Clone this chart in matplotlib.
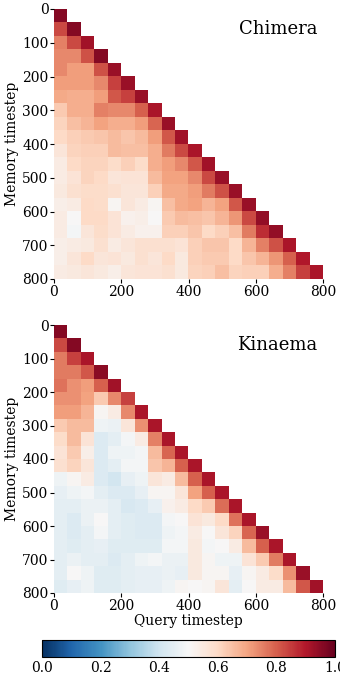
import numpy as np
import matplotlib
matplotlib.use("Agg")
import matplotlib.pyplot as plt

plt.rcParams['font.family'] = ['DejaVu Serif']

step = 40
n_cells = 20
y_ticks = [0, 100, 200, 300, 400, 500, 600, 700, 800]
x_ticks = [0, 200, 400, 600, 800]
cbar_ticks = [0.0, 0.2, 0.4, 0.6, 0.8, 1.0]

# lower-triangular rows: row i (memory) holds values for query columns 0..i
chimera_rows = [
    [0.96],
    [0.83, 0.96],
    [0.75, 0.83, 0.92],
    [0.74, 0.74, 0.82, 0.96],
    [0.74, 0.71, 0.71, 0.82, 0.93],
    [0.71, 0.71, 0.71, 0.74, 0.84, 0.93],
    [0.69, 0.68, 0.68, 0.71, 0.81, 0.84, 0.93],
    [0.63, 0.68, 0.68, 0.75, 0.74, 0.74, 0.80, 0.91],
    [0.61, 0.65, 0.67, 0.70, 0.68, 0.68, 0.71, 0.79, 0.93],
    [0.60, 0.62, 0.63, 0.64, 0.66, 0.64, 0.66, 0.71, 0.81, 0.92],
    [0.56, 0.61, 0.62, 0.62, 0.66, 0.65, 0.65, 0.68, 0.76, 0.83, 0.91],
    [0.54, 0.60, 0.61, 0.61, 0.59, 0.62, 0.59, 0.68, 0.71, 0.74, 0.81, 0.92],
    [0.54, 0.57, 0.61, 0.60, 0.56, 0.57, 0.57, 0.66, 0.70, 0.70, 0.74, 0.83, 0.93],
    [0.55, 0.58, 0.59, 0.59, 0.58, 0.56, 0.56, 0.62, 0.69, 0.69, 0.71, 0.76, 0.82, 0.93],
    [0.53, 0.54, 0.60, 0.59, 0.51, 0.56, 0.54, 0.51, 0.65, 0.69, 0.70, 0.67, 0.70, 0.81, 0.93],
    [0.54, 0.50, 0.60, 0.60, 0.57, 0.52, 0.53, 0.50, 0.63, 0.66, 0.65, 0.64, 0.67, 0.72, 0.83, 0.94],
    [0.54, 0.49, 0.56, 0.59, 0.57, 0.54, 0.52, 0.52, 0.62, 0.62, 0.64, 0.60, 0.62, 0.65, 0.76, 0.87, 0.94],
    [0.53, 0.54, 0.55, 0.58, 0.54, 0.56, 0.58, 0.58, 0.58, 0.57, 0.62, 0.64, 0.64, 0.60, 0.67, 0.75, 0.82, 0.91],
    [0.53, 0.56, 0.60, 0.56, 0.57, 0.55, 0.58, 0.56, 0.60, 0.55, 0.62, 0.63, 0.63, 0.60, 0.64, 0.67, 0.72, 0.80, 0.90],
    [0.54, 0.55, 0.56, 0.55, 0.53, 0.56, 0.57, 0.57, 0.58, 0.55, 0.61, 0.62, 0.65, 0.61, 0.62, 0.62, 0.68, 0.75, 0.84, 0.91],
]

kinaema_rows = [
    [0.96],
    [0.83, 0.96],
    [0.76, 0.84, 0.91],
    [0.76, 0.76, 0.81, 0.95],
    [0.77, 0.73, 0.71, 0.80, 0.92],
    [0.73, 0.73, 0.70, 0.63, 0.74, 0.84],
    [0.71, 0.71, 0.67, 0.51, 0.54, 0.74, 0.91],
    [0.63, 0.66, 0.66, 0.48, 0.47, 0.56, 0.73, 0.91],
    [0.59, 0.66, 0.57, 0.43, 0.45, 0.49, 0.54, 0.75, 0.91],
    [0.57, 0.63, 0.53, 0.43, 0.48, 0.48, 0.49, 0.66, 0.79, 0.91],
    [0.58, 0.61, 0.56, 0.43, 0.45, 0.49, 0.49, 0.64, 0.67, 0.80, 0.91],
    [0.48, 0.51, 0.54, 0.43, 0.41, 0.46, 0.48, 0.56, 0.54, 0.66, 0.80, 0.91],
    [0.46, 0.48, 0.49, 0.45, 0.43, 0.43, 0.46, 0.51, 0.51, 0.56, 0.70, 0.80, 0.91],
    [0.45, 0.45, 0.47, 0.47, 0.45, 0.42, 0.43, 0.46, 0.52, 0.54, 0.60, 0.63, 0.78, 0.91],
    [0.45, 0.43, 0.47, 0.50, 0.45, 0.44, 0.43, 0.43, 0.49, 0.50, 0.57, 0.55, 0.60, 0.77, 0.91],
    [0.45, 0.43, 0.45, 0.49, 0.45, 0.44, 0.43, 0.43, 0.48, 0.49, 0.54, 0.50, 0.56, 0.61, 0.79, 0.93],
    [0.45, 0.44, 0.45, 0.46, 0.44, 0.44, 0.44, 0.44, 0.49, 0.49, 0.55, 0.49, 0.50, 0.54, 0.66, 0.80, 0.91],
    [0.45, 0.47, 0.45, 0.45, 0.43, 0.45, 0.48, 0.49, 0.47, 0.47, 0.55, 0.51, 0.48, 0.48, 0.57, 0.63, 0.76, 0.91],
    [0.45, 0.50, 0.48, 0.44, 0.44, 0.45, 0.46, 0.46, 0.47, 0.46, 0.55, 0.51, 0.51, 0.46, 0.51, 0.54, 0.59, 0.73, 0.93],
    [0.44, 0.46, 0.48, 0.44, 0.44, 0.45, 0.46, 0.46, 0.48, 0.51, 0.50, 0.51, 0.56, 0.45, 0.50, 0.54, 0.54, 0.66, 0.81, 0.92],
]

titles = ["Chimera", "Kinaema"]


def to_matrix(rows):
    m = np.full((n_cells, n_cells), np.nan)
    for i, r in enumerate(rows):
        m[i, :len(r)] = r
    return m


W, H = 340, 677
fig = plt.figure(figsize=(W / 100, H / 100), dpi=100)

axes_px = [(54, 9, 269, 270), (54, 325, 269, 268)]
extent_max = n_cells * step
im = None
for k, (rows, title) in enumerate(zip([chimera_rows, kinaema_rows], titles)):
    x0, y0, w, h = axes_px[k]
    ax = fig.add_axes([x0 / W, 1 - (y0 + h) / H, w / W, h / H])
    im = ax.imshow(to_matrix(rows), cmap='RdBu_r', vmin=0, vmax=1,
                   extent=[0, extent_max, extent_max, 0],
                   interpolation='nearest', aspect='auto')
    for s in ax.spines.values():
        s.set_visible(False)
    ax.set_yticks(y_ticks)
    ax.set_xticks(x_ticks)
    ax.tick_params(labelsize=10, length=3, width=0.8, pad=1)
    ax.set_ylabel("Memory timestep", fontsize=10, labelpad=2)
    if k == 1:
        ax.set_xlabel("Query timestep", fontsize=10, labelpad=1)
    ax.text(0.98, 0.96, title, transform=ax.transAxes, ha='right', va='top',
            fontsize=13)

cax = fig.add_axes([42 / W, 1 - 657 / H, 293 / W, 17 / H])
cb = fig.colorbar(im, cax=cax, orientation='horizontal', ticks=cbar_ticks)
cb.ax.tick_params(labelsize=10, length=0, pad=3)
cb.ax.set_xticklabels([f"{t:.1f}" for t in cbar_ticks])

fig.savefig("out.png", dpi=100)
